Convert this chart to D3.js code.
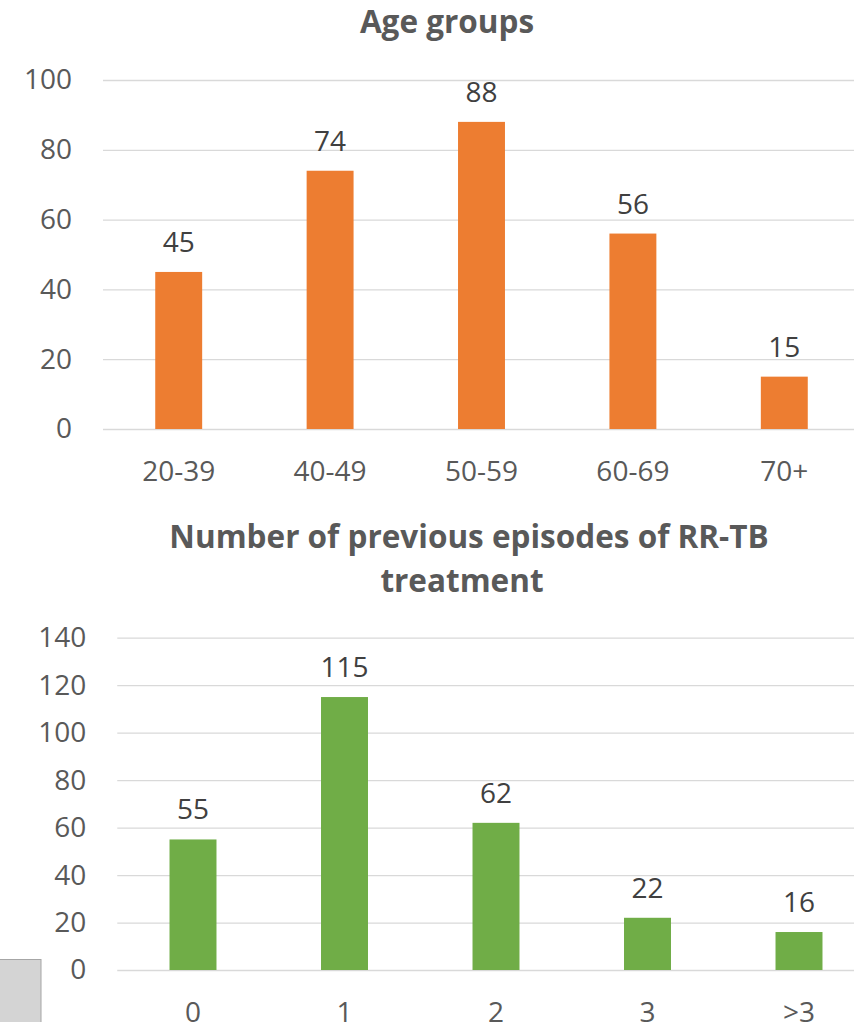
<!DOCTYPE html>
<html>
<head>
<meta charset="utf-8">
<script src="https://cdn.jsdelivr.net/npm/d3@7"></script>
<style>
  html, body { margin: 0; padding: 0; background: #fff; overflow: hidden; }
  svg { display: block; font-family: "Open Sans", sans-serif; }
</style>
</head>
<body>
<svg id="chart" width="854" height="1022"></svg>
<script>
// ---- Data ----
const ageCategories = ["20-39", "40-49", "50-59", "60-69", "70+"];
const ageValues = [45, 74, 88, 56, 15];
const ageTicks = [0, 20, 40, 60, 80, 100];

const episodeCategories = ["0", "1", "2", "3", ">3"];
const episodeValues = [55, 115, 62, 22, 16];
const episodeTicks = [0, 20, 40, 60, 80, 100, 120, 140];

const titleAge = ["Age groups"];
const titleEpisodes = ["Number of previous episodes of RR-TB", "treatment"];

// ---- Drawing ----
const svg = d3.select("#chart");

function drawPanel(cfg) {
  const g = svg.append("g");
  const x = d3.scaleBand().domain(cfg.categories)
    .range([cfg.x0, cfg.x1]).paddingInner(0.69).paddingOuter(0.345);
  const y = d3.scaleLinear().domain([0, cfg.max]).range([cfg.yBottom, cfg.yTop]);

  // gridlines + y labels
  const yAxis = d3.axisLeft(y).tickValues(cfg.ticks).tickSize(-(cfg.x1 - cfg.x0)).tickPadding(31).tickFormat(d3.format("d"));
  const ya = g.append("g").attr("transform", `translate(${cfg.x0},0)`).call(yAxis);
  ya.select(".domain").remove();
  ya.selectAll(".tick line").attr("stroke", "#d9d9d9").attr("stroke-width", 1.3);
  ya.selectAll(".tick text").attr("fill", "#595959").attr("font-size", 28)
    .attr("font-family", "'Open Sans', sans-serif");

  // bars
  g.selectAll("rect.bar").data(cfg.values).join("rect")
    .attr("class", "bar")
    .attr("x", (d, i) => x(cfg.categories[i]))
    .attr("y", d => y(d))
    .attr("width", x.bandwidth())
    .attr("height", d => y(0) - y(d))
    .attr("fill", cfg.color);

  // data labels
  g.selectAll("text.val").data(cfg.values).join("text")
    .attr("class", "val")
    .attr("x", (d, i) => x(cfg.categories[i]) + x.bandwidth() / 2)
    .attr("y", d => y(d) - 20)
    .attr("text-anchor", "middle")
    .attr("fill", "#404040")
    .attr("font-size", 28)
    .text(d => d);

  // x labels
  const xAxis = d3.axisBottom(x).tickSize(0).tickPadding(0);
  const xa = g.append("g").attr("transform", `translate(0,${cfg.yBottom})`).call(xAxis);
  xa.select(".domain").remove();
  xa.selectAll(".tick text").attr("fill", "#595959").attr("font-size", 28)
    .attr("font-family", "'Open Sans', sans-serif")
    .attr("dy", null).attr("y", cfg.xLabelOffset);

  // title
  cfg.title.forEach((t, i) => {
    g.append("text")
      .attr("x", cfg.titleX[i])
      .attr("y", cfg.titleY[i])
      .attr("text-anchor", "middle")
      .attr("font-weight", "bold")
      .attr("font-size", 31.5)
      .attr("fill", "#595959")
      .text(t);
  });
}

drawPanel({
  categories: ageCategories, values: ageValues, ticks: ageTicks, max: 100,
  x0: 103, x1: 860, yTop: 80, yBottom: 429, color: "#ED7D31",
  xLabelOffset: 52, title: titleAge, titleX: [447], titleY: [33]
});

drawPanel({
  categories: episodeCategories, values: episodeValues, ticks: episodeTicks, max: 140,
  x0: 117.25, x1: 874.75, yTop: 637.7, yBottom: 970, color: "#70AD47",
  xLabelOffset: 52, title: titleEpisodes, titleX: [469, 462], titleY: [548, 592]
});

// small grey box at bottom-left corner
svg.append("rect").attr("x", -1).attr("y", 959.5).attr("width", 42).attr("height", 70)
  .attr("fill", "#d4d4d4").attr("stroke", "#a6a6a6").attr("stroke-width", 1);
</script>
</body>
</html>
